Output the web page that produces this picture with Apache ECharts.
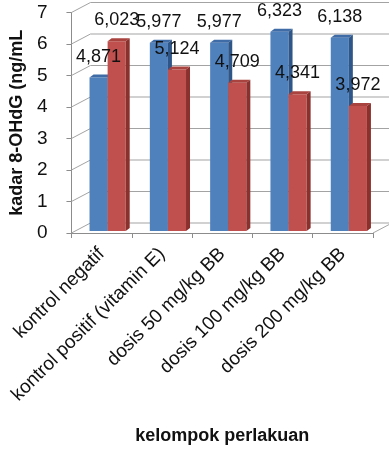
<!DOCTYPE html>
<html><head><meta charset="utf-8">
<script src="https://cdn.jsdelivr.net/npm/echarts@6/dist/echarts.min.js"></script>
<style>html,body{margin:0;padding:0;background:#fff}#c{width:389px;height:449px}</style>
</head><body><div id="c"></div>
<script>
const categories = ['kontrol negatif','kontrol positif (vitamin E)','dosis 50 mg/kg BB','dosis 100 mg/kg BB','dosis 200 mg/kg BB'];
const seriesBlue = [4.871, 5.977, 5.977, 6.323, 6.138];
const seriesRed = [6.023, 5.124, 4.709, 4.341, 3.972];
const yTicks = [0,1,2,3,4,5,6,7];

const WALL_DX = 19, WALL_DY = -10;   // depth of the 3D walls
const BAR_DX = 4, BAR_DY = -3;       // depth of each bar
const SHIFT_X = 6, SHIFT_Y = -2;     // bars sit a bit behind the front plane
const FONT = '"Liberation Sans", Arial, sans-serif';
const GRID_COLOR = '#A3A3A3';

function fmt(v){ return v.toFixed(3).replace('.', ','); }

function geom(api, which){
  const idx = api.value(0), val = api.value(1);
  const pTop = api.coord([idx, val]);
  const pBase = api.coord([idx, 0]);
  const bw = api.size([1, 0])[0] * 0.3;
  const x = (which === 0 ? pTop[0] - bw : pTop[0]) + SHIFT_X;
  return {x:x, bw:bw, yT:pTop[1] + SHIFT_Y, yB:pBase[1] + SHIFT_Y, val:val};
}

function barRenderer(front, topC, sideC, which){
  return function(params, api){
    const g = geom(api, which);
    const x = g.x, bw = g.bw, yT = g.yT, yB = g.yB;
    return {type:'group', children:[
      {type:'rect', shape:{x:x, y:yT, width:bw, height:yB-yT}, style:{fill:front}},
      {type:'polygon', shape:{points:[[x,yT],[x+bw,yT],[x+bw+BAR_DX,yT+BAR_DY],[x+BAR_DX,yT+BAR_DY]]}, style:{fill:topC}},
      {type:'polygon', shape:{points:[[x+bw,yT],[x+bw+BAR_DX,yT+BAR_DY],[x+bw+BAR_DX,yB+BAR_DY],[x+bw,yB]]}, style:{fill:sideC}}
    ]};
  };
}

function labelRenderer(which){
  return function(params, api){
    const g = geom(api, which);
    return {type:'text', style:{text:fmt(g.val), x:g.x+g.bw/2, y:g.yT-21, align:'center', verticalAlign:'middle', font:'18px ' + FONT, fill:'#111'}};
  };
}

function wallRenderer(params, api){
  const v = api.value(0);
  const cs = params.coordSys;
  const left = cs.x, right = cs.x + cs.width;
  const y = api.coord([0, v])[1];
  const ls = {stroke: GRID_COLOR, lineWidth: 1, fill: null};
  const children = [
    {type:'polyline', shape:{points:[[left,y],[left+WALL_DX,y+WALL_DY],[right+WALL_DX,y+WALL_DY]]}, style:ls}
  ];
  if (v === 0) {
    children.push({type:'polyline', shape:{points:[[right,y],[right+WALL_DX,y+WALL_DY]]}, style:ls});
  }
  return {type:'group', children};
}

const blueData = seriesBlue.map((v,i)=>[i,v]);
const redData = seriesRed.map((v,i)=>[i,v]);

const chart = echarts.init(document.getElementById('c'), null, {renderer:'canvas'});
chart.setOption({
  animation:false,
  backgroundColor:'#fff',
  grid:{left:62, right:16, top:12.5, bottom:216, containLabel:false},
  xAxis:{
    type:'category', data:categories,
    axisLine:{show:true, lineStyle:{color:'#8C8C8C', width:1}},
    axisTick:{show:true, length:5, alignWithLabel:false, lineStyle:{color:'#8C8C8C'}},
    axisLabel:{rotate:45, margin:18, fontSize:19, fontFamily:FONT, color:'#111', interval:0},
    name:'kelompok perlakuan', nameLocation:'middle', nameGap:194,
    nameTextStyle:{fontSize:18, fontWeight:'bold', fontFamily:FONT, color:'#111'}
  },
  yAxis:{
    type:'value', min:0, max:7, interval:1,
    axisLine:{show:true, lineStyle:{color:'#8C8C8C', width:1}},
    axisTick:{show:true, length:5, lineStyle:{color:'#8C8C8C'}},
    splitLine:{show:false},
    axisLabel:{margin:24, fontSize:19, fontFamily:FONT, color:'#111'},
    name:'kadar 8-OHdG (ng/mL', nameLocation:'middle', nameGap:43,
    nameTextStyle:{fontSize:18, fontWeight:'bold', fontFamily:FONT, color:'#111'}
  },
  series:[
    {type:'custom', z:1, renderItem:wallRenderer, data:yTicks.map(v=>[v]), encode:{y:0}, silent:true},
    {type:'custom', z:2, renderItem:barRenderer('#4F81BD','#3F6CA6','#2E5688',0), data:blueData, encode:{x:0,y:1}},
    {type:'custom', z:3, renderItem:barRenderer('#C0504D','#A9433F','#8A302D',1), data:redData, encode:{x:0,y:1}},
    {type:'custom', z:10, renderItem:labelRenderer(0), data:blueData, encode:{x:0,y:1}, silent:true},
    {type:'custom', z:10, renderItem:labelRenderer(1), data:redData, encode:{x:0,y:1}, silent:true}
  ]
});
</script>
</body></html>
